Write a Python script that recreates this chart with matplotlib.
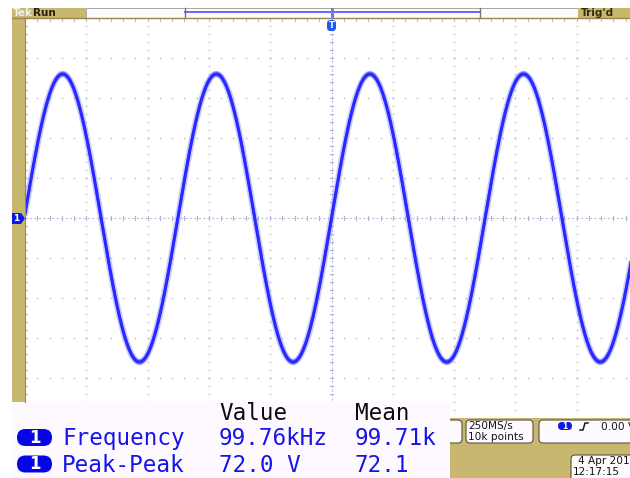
import numpy as np
import matplotlib
matplotlib.use("Agg")
import matplotlib.pyplot as plt
from matplotlib.patches import Rectangle, FancyBboxPatch, Polygon

# Acquisition / measurement values
freq_khz = 99.76          # measured frequency
freq_mean_khz = 99.71
vpp = 72.0                # measured peak-peak
vpp_mean = 72.1
time_per_div_us = 4.0
volts_per_div = 10.0
n_hdiv, n_vdiv = 10, 10

meas_names = ["Frequency", "Peak-Peak"]
meas_values = ["99.76kHz", "72.0 V"]
meas_means = ["99.71k", "72.1"]
col_headers = ["Value", "Mean"]

W, H = 630, 478
TAN = (0.784, 0.718, 0.435)
TAN_EDGE = (0.60, 0.52, 0.30)
TRACE = (0.16, 0.16, 1.0)
TXT_BLUE = (0.08, 0.08, 0.92)
GRID = (0.74, 0.74, 0.78)

fig = plt.figure(figsize=(W / 100, H / 100), dpi=100, facecolor="white")

# ---- scope graticule axes (pixel box 25..638 x 18..418) ----
gx0, gy0, gx1, gy1 = 25, 18, 638, 418
ax = fig.add_axes([gx0 / W, 1 - gy1 / H, (gx1 - gx0) / W, (gy1 - gy0) / H], zorder=1)
ax.set_facecolor("white")
tmin, tmax = -n_hdiv / 2 * time_per_div_us, n_hdiv / 2 * time_per_div_us
vmin, vmax = -n_vdiv / 2 * volts_per_div, n_vdiv / 2 * volts_per_div
ax.set_xlim(tmin, tmax)
ax.set_ylim(vmin, vmax)
ax.axis("off")

tminor = time_per_div_us / 5
vminor = volts_per_div / 5
t_major = np.arange(tmin, tmax + 1e-9, time_per_div_us)
v_major = np.arange(vmin, vmax + 1e-9, volts_per_div)
t_minor = np.arange(tmin, tmax + 1e-9, tminor)
v_minor = np.arange(vmin, vmax + 1e-9, vminor)

# dotted major grid
for tm in t_major[1:-1]:
    if abs(tm) < 1e-9:
        continue
    ax.plot(np.full_like(v_minor, tm), v_minor, ls="none", marker="s", ms=1.1,
            color=GRID, mew=0)
for vm in v_major[1:-1]:
    if abs(vm) < 1e-9:
        continue
    ax.plot(t_minor, np.full_like(t_minor, vm), ls="none", marker="s", ms=1.1,
            color=GRID, mew=0)

# center cross with minor ticks
ax.plot([tmin, tmax], [0, 0], color=(0.74, 0.74, 0.86), lw=0.8, ls=(0, (2, 2)))
ax.plot([0, 0], [vmin, vmax], color=(0.74, 0.74, 0.86), lw=0.8, ls=(0, (2, 2)))
for tm in t_minor:
    ax.plot([tm, tm], [-0.6, 0.6], color=(0.70, 0.70, 0.82), lw=0.8)
    ax.plot([tm, tm], [vmax, vmax - 0.7], color=GRID, lw=0.8)
for vm in v_minor:
    ax.plot([-0.12, 0.12], [vm, vm], color=(0.70, 0.70, 0.82), lw=0.8)
    ax.plot([tmin, tmin + 0.14], [vm, vm], color=GRID, lw=0.8)

# trace: sine from measured frequency and peak-peak, triggered at t=0
t = np.linspace(tmin, tmax, 5000)
amp = vpp / 2
phase = 2 * np.pi * (freq_khz / 1000.0) * t
ax.plot(t, amp * np.sin(phase), color=(0.55, 0.55, 1.0), lw=4.6, alpha=0.45,
        solid_capstyle="round")
for k in (-0.01, 0.01):
    ax.plot(t, amp * (1 + k) * np.sin(phase), color=(0.3, 0.3, 1.0), lw=1.8,
            alpha=0.55)
ax.plot(t, amp * np.sin(phase), color=TRACE, lw=2.2)

# ---- overlay in pixel coordinates ----
ov = fig.add_axes([0, 0, 1, 1], zorder=3)
ov.set_xlim(0, W)
ov.set_ylim(H, 0)
ov.axis("off")
ov.patch.set_alpha(0)

# left tan bar
ov.add_patch(Rectangle((12, 8), 13, 394, color=TAN, lw=0))
ov.plot([24.5, 24.5], [18, 402], color=TAN_EDGE, lw=0.8)

# top status bar
ov.add_patch(Rectangle((12, 8), 74, 10, color=TAN, lw=0))
ov.add_patch(Rectangle((86, 8), 492, 9.5, facecolor=(0.995, 0.98, 0.995),
                       edgecolor=(0.6, 0.6, 0.6), lw=0.6))
ov.add_patch(Rectangle((578, 8), 52, 10, color=TAN, lw=0))
ov.plot([12, 630], [17.6, 17.6], color=TAN_EDGE, lw=1.0)
ov.plot([185, 480], [12.3, 12.3], color=(0.4, 0.4, 1.0), lw=1.4)
for xb in (185, 480):
    ov.plot([xb, xb], [8, 17], color=(0.45, 0.45, 0.45), lw=1.0)
ov.text(12.5, 13, "Tek", color=(0.95, 0.95, 0.92), fontsize=7.5,
        fontweight="bold", va="center", ha="left", family="DejaVu Sans")
ov.text(33, 13, "Run", color=(0.15, 0.12, 0.05), fontsize=7.5,
        fontweight="bold", va="center", ha="left", family="DejaVu Sans")
ov.text(581, 13, "Trig'd", color=(0.2, 0.16, 0.06), fontsize=7.5,
        fontweight="bold", va="center", ha="left", family="DejaVu Sans")

# trigger position markers
ov.plot([331.5, 331.5], [9, 17], color=(0.45, 0.5, 0.8), lw=2.2)
ov.add_patch(FancyBboxPatch((327, 20), 9, 11, boxstyle="round,pad=0,rounding_size=3.5",
                            color=(0.1, 0.35, 0.95), lw=0))
ov.text(331.5, 25.5, "T", color="white", fontsize=6, fontweight="bold",
        ha="center", va="center", family="DejaVu Sans")

# channel 1 ground marker
ov.add_patch(Polygon([[12, 213], [21, 213], [25, 218.5], [21, 224], [12, 224]],
                     closed=True, color=(0.05, 0.1, 0.9), lw=0))
ov.text(16.5, 218.8, "1", color="white", fontsize=6.5, fontweight="bold",
        ha="center", va="center", family="DejaVu Sans")

# lower right readout area
ov.add_patch(Rectangle((450, 418), 180, 60, color=TAN, lw=0))
boxes = [(430, 420, 32, 23), (466, 420, 67, 23), (539, 420, 100, 23), (571, 455, 70, 30)]
for (bx, by, bw, bh) in boxes:
    ov.add_patch(FancyBboxPatch((bx, by), bw, bh,
                                boxstyle="round,pad=0,rounding_size=4",
                                facecolor=(0.995, 0.98, 0.995),
                                edgecolor=(0.35, 0.32, 0.25), lw=0.8))
small = dict(color=(0.08, 0.08, 0.08), fontsize=7.6, fontweight="medium",
             family="DejaVu Sans", ha="left", va="baseline")
ov.text(468, 429.5, "250MS/s", **small)
ov.text(468, 440, "10k points", **small)
ov.add_patch(FancyBboxPatch((558, 422), 14, 8, boxstyle="round,pad=0,rounding_size=4",
                            color=(0.05, 0.1, 0.9), lw=0))
ov.text(565, 426.3, "1", color="white", fontsize=5.5, fontweight="bold",
        ha="center", va="center", family="DejaVu Sans")
ov.plot([580, 583, 585, 588], [430, 430, 423, 423], color=(0.1, 0.1, 0.1), lw=1.1)
ov.text(601, 429.5, "0.00 V", clip_on=True, **small)
ov.text(578, 464.5, "4 Apr 2018", clip_on=True, **small)
ov.text(573, 475, "12:17:15", **small)

# measurement panel
ov.add_patch(Rectangle((12, 402), 438, 76, color=(0.995, 0.975, 0.995), lw=0))
big = dict(fontsize=16.3, family="DejaVu Sans Mono", va="baseline", ha="left")
ov.text(219, 420, col_headers[0], color=(0.05, 0.05, 0.05), **big)
ov.text(355, 420, col_headers[1], color=(0.05, 0.05, 0.05), **big)
for i, (name, val, mean) in enumerate(zip(meas_names, meas_values, meas_means)):
    yb = 445 + i * 26.5
    ov.add_patch(FancyBboxPatch((17, yb - 16), 35, 17,
                                boxstyle="round,pad=0,rounding_size=8.5",
                                color=(0.02, 0.02, 0.9), lw=0))
    ov.text(34.5, yb - 7.3, "1", color="white", fontsize=12, fontweight="bold",
            ha="center", va="center", family="DejaVu Sans")
    ov.text(62, yb, name, color=TXT_BLUE, **big)
    ov.text(219, yb, val, color=TXT_BLUE, **big)
    ov.text(355, yb, mean, color=TXT_BLUE, **big)

fig.savefig("out.png", dpi=100, facecolor="white")
